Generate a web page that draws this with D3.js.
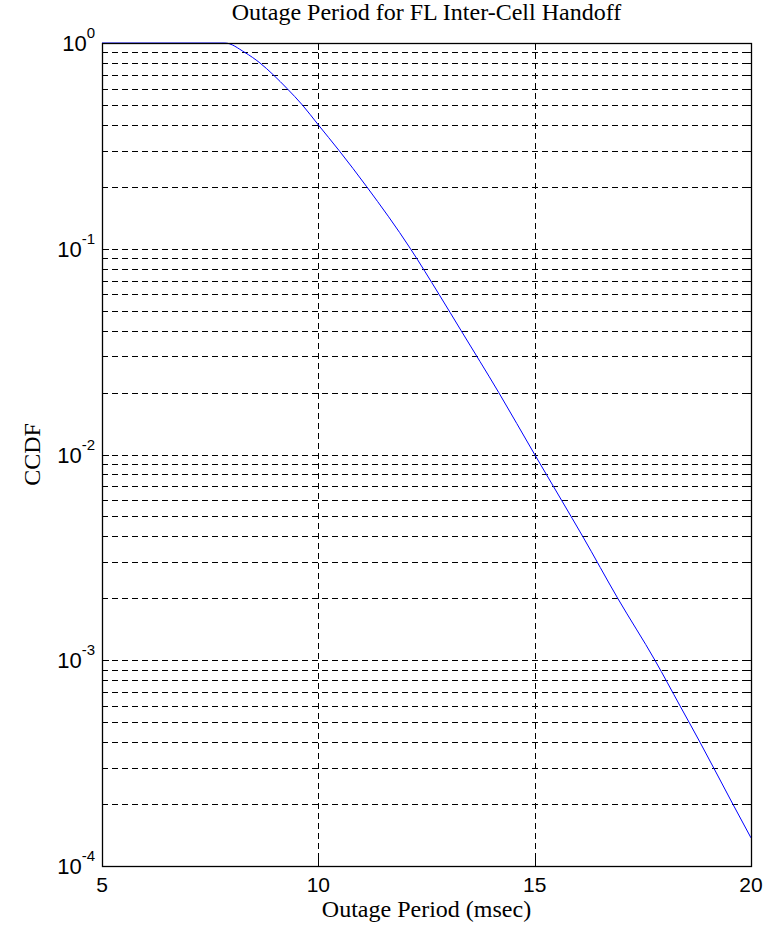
<!DOCTYPE html>
<html>
<head>
<meta charset="utf-8">
<script src="https://cdn.jsdelivr.net/npm/d3@7"></script>
<style>
  body { margin: 0; background: #fff; }
  svg { display: block; }
</style>
</head>
<body>
<script>
// outage period (msec) vs CCDF
var periods = [5, 7.84, 8.30, 8.65, 8.96, 9.28, 9.63, 10.0, 10.48, 11.12, 12.13,
    12.79, 13.30, 14.17, 15.0, 15.62, 16.11, 16.92, 17.78, 18.36, 18.82, 19.58, 20];
var ccdf = [1, 1, 0.9, 0.8, 0.7, 0.6, 0.5, 0.4, 0.3, 0.2, 0.1,
    0.06, 0.04, 0.02, 0.01, 0.006, 0.004, 0.002, 0.001, 0.0006, 0.0004, 0.0002, 0.000137];

var xTicks = [5, 10, 15, 20];
var xGrid = [10, 15];
var yMajor = [1e-4, 1e-3, 1e-2, 1e-1, 1];
var yExp = ['-4', '-3', '-2', '-1', '0'];

var W = 769, H = 930;
var pLeft = 102, pRight = 751, pTop = 43, pBottom = 866;

var svg = d3.select('body').append('svg')
    .attr('width', W)
    .attr('height', H);

var x = d3.scaleLinear().domain([5, 20]).range([pLeft, pRight]);
var y = d3.scaleLog().domain([1e-4, 1]).range([pBottom, pTop]);

// every log tick 1..9 per decade
var yMinor = [];
yMajor.slice(0, 4).forEach(function(d) {
    for (var k = 1; k <= 9; k++) yMinor.push(d * k);
});
yMinor.push(1);

// grid
var grid = svg.append('g').attr('stroke', '#000').attr('stroke-width', 1)
    .attr('stroke-dasharray', '6,4').attr('shape-rendering', 'crispEdges');

grid.selectAll('line.h').data(yMinor.filter(function(d) { return d > 1e-4 && d < 1; }))
    .enter().append('line')
    .attr('class', 'h')
    .attr('x1', pLeft).attr('x2', pRight)
    .attr('y1', function(d) { return Math.round(y(d)) + 0.5; })
    .attr('y2', function(d) { return Math.round(y(d)) + 0.5; });

grid.selectAll('line.v').data(xGrid)
    .enter().append('line')
    .attr('class', 'v')
    .attr('y1', pTop).attr('y2', pBottom)
    .attr('x1', function(d) { return Math.round(x(d)) + 0.5; })
    .attr('x2', function(d) { return Math.round(x(d)) + 0.5; });

// curve
var pts = periods.map(function(p, i) { return [p, ccdf[i]]; });
var line = d3.line()
    .x(function(d) { return x(d[0]); })
    .y(function(d) { return y(d[1]); })
    .curve(d3.curveMonotoneX);

svg.append('path')
    .datum(pts)
    .attr('d', line)
    .attr('fill', 'none')
    .attr('stroke', '#0000ff')
    .attr('stroke-width', 1);

// axes with inward ticks
function styleAxis(g) {
    g.selectAll('text').remove();
    g.select('.domain').remove();
    g.selectAll('line').attr('stroke', '#000').attr('shape-rendering', 'crispEdges');
}

var minorOnly = yMinor.filter(function(d) { return yMajor.indexOf(d) < 0; });

svg.append('g').attr('transform', 'translate(' + pLeft + ',0)')
    .call(d3.axisLeft(y).tickValues(minorOnly).tickSize(-4)).call(styleAxis);
svg.append('g').attr('transform', 'translate(' + pLeft + ',0)')
    .call(d3.axisLeft(y).tickValues(yMajor).tickSize(-7)).call(styleAxis);
svg.append('g').attr('transform', 'translate(' + pRight + ',0)')
    .call(d3.axisRight(y).tickValues(minorOnly).tickSize(-4)).call(styleAxis);
svg.append('g').attr('transform', 'translate(' + pRight + ',0)')
    .call(d3.axisRight(y).tickValues(yMajor).tickSize(-7)).call(styleAxis);
svg.append('g').attr('transform', 'translate(0,' + pBottom + ')')
    .call(d3.axisBottom(x).tickValues(xTicks).tickSize(-7)).call(styleAxis);
svg.append('g').attr('transform', 'translate(0,' + pTop + ')')
    .call(d3.axisTop(x).tickValues(xTicks).tickSize(-7)).call(styleAxis);

// frame
svg.append('rect')
    .attr('x', pLeft + 0.5).attr('y', pTop + 0.5)
    .attr('width', pRight - pLeft).attr('height', pBottom - pTop)
    .attr('fill', 'none').attr('stroke', '#000').attr('stroke-width', 1.3);

// tick labels
svg.selectAll('text.xt').data(xTicks).enter().append('text')
    .attr('class', 'xt')
    .attr('x', function(d) { return x(d); })
    .attr('y', 892)
    .attr('text-anchor', 'middle')
    .attr('font-family', 'Liberation Sans, Arial, sans-serif')
    .attr('font-size', 21)
    .text(function(d) { return d; });

var yt = svg.selectAll('text.yt').data(yMajor).enter().append('text')
    .attr('class', 'yt')
    .attr('x', 95)
    .attr('y', function(d) { return y(d) + 8; })
    .attr('text-anchor', 'end')
    .attr('font-family', 'Liberation Sans, Arial, sans-serif')
    .attr('font-size', 22);
yt.append('tspan').text('10');
yt.append('tspan')
    .attr('font-size', 15)
    .attr('dy', -13)
    .text(function(d, i) { return yExp[i]; });

// titles
svg.append('text')
    .attr('x', (pLeft + pRight) / 2)
    .attr('y', 20)
    .attr('text-anchor', 'middle')
    .attr('font-family', 'Liberation Serif, Times New Roman, serif')
    .attr('font-size', 24)
    .text('Outage Period for FL Inter-Cell Handoff');

svg.append('text')
    .attr('x', (pLeft + pRight) / 2)
    .attr('y', 917)
    .attr('text-anchor', 'middle')
    .attr('font-family', 'Liberation Serif, Times New Roman, serif')
    .attr('font-size', 24)
    .text('Outage Period (msec)');

svg.append('text')
    .attr('transform', 'translate(40,' + (pTop + pBottom) / 2 + ') rotate(-90)')
    .attr('text-anchor', 'middle')
    .attr('font-family', 'Liberation Serif, Times New Roman, serif')
    .attr('font-size', 24)
    .text('CCDF');
</script>
</body>
</html>
